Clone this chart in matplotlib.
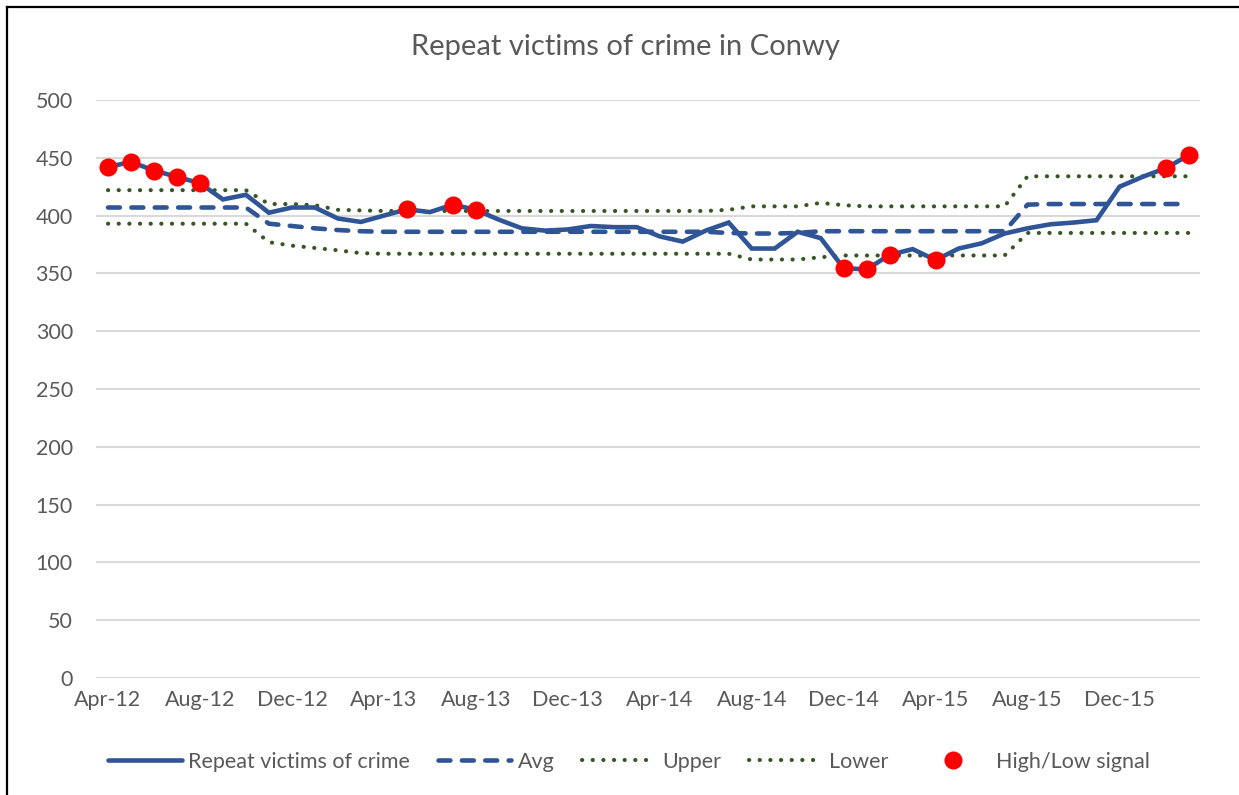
import matplotlib
matplotlib.use("Agg")
import matplotlib.pyplot as plt
from matplotlib.lines import Line2D
import numpy as np

# ---------------- data ----------------
months = ["Apr-12", "May-12", "Jun-12", "Jul-12", "Aug-12", "Sep-12", "Oct-12", "Nov-12",
          "Dec-12", "Jan-13", "Feb-13", "Mar-13", "Apr-13", "May-13", "Jun-13", "Jul-13",
          "Aug-13", "Sep-13", "Oct-13", "Nov-13", "Dec-13", "Jan-14", "Feb-14", "Mar-14",
          "Apr-14", "May-14", "Jun-14", "Jul-14", "Aug-14", "Sep-14", "Oct-14", "Nov-14",
          "Dec-14", "Jan-15", "Feb-15", "Mar-15", "Apr-15", "May-15", "Jun-15", "Jul-15",
          "Aug-15", "Sep-15", "Oct-15", "Nov-15", "Dec-15", "Jan-16", "Feb-16", "Mar-16"]

repeat_victims = [442, 446.5, 439, 433.5, 428, 414, 418, 402.5,
                  407, 407, 397.5, 394.5, 400, 405.5, 403, 409.5,
                  405, 396.5, 389, 387, 388, 391, 390, 390,
                  382, 377.5, 387, 394, 371.5, 371.5, 386, 380.5,
                  354.5, 353.5, 366, 371, 361.5, 371.5, 376, 384.5,
                  389, 392.5, 394, 396, 425, 433.5, 441, 452]

avg = [407, 407, 407, 407, 407, 407, 407, 393,
       391, 389, 387.5, 386.5, 386, 386, 386, 386,
       386, 386, 386, 386, 386, 386, 386, 386,
       386, 386, 386, 385, 384.5, 384.5, 385, 386.5,
       386.5, 386.5, 386.5, 386.5, 386.5, 386.5, 386.5, 386.5,
       409.5, 410, 410, 410, 410, 410, 410, 410]

upper = [422, 422, 422, 422, 422, 422, 422, 410,
         410, 409, 405, 404.5, 404, 404, 404, 404,
         404, 404, 404, 404, 404, 404, 404, 404,
         404, 404, 404, 405, 408, 408, 408, 411,
         409, 408, 408, 408, 408, 408, 408, 408,
         434, 434, 434, 434, 434, 434, 434, 434]

lower = [393, 393, 393, 393, 393, 393, 393, 377,
         374, 372, 370, 367.5, 367, 367, 367, 367,
         367, 367, 367, 367, 367, 367, 367, 367,
         367, 367, 367, 367, 362, 362, 362, 364,
         365.5, 365.5, 365.5, 365.5, 365.5, 365.5, 365.5, 365.5,
         385, 385, 385, 385, 385, 385, 385, 385]

signal_months = ["Apr-12", "May-12", "Jun-12", "Jul-12", "Aug-12", "May-13", "Jul-13",
                 "Aug-13", "Dec-14", "Jan-15", "Feb-15", "Apr-15", "Feb-16", "Mar-16"]

tick_labels = ["Apr-12", "Aug-12", "Dec-12", "Apr-13", "Aug-13", "Dec-13",
               "Apr-14", "Aug-14", "Dec-14", "Apr-15", "Aug-15", "Dec-15"]
y_ticks = [0, 50, 100, 150, 200, 250, 300, 350, 400, 450, 500]

# ---------------- style ----------------
FONT = ["Lato", "DejaVu Sans"]
plt.rcParams["font.family"] = FONT
TXT = "#595959"
BLUE = "#2F5597"
GREEN = "#375623"
RED = "#FF0000"
GRID = "#D9D9D9"
DOT = (0, (0.05, 2.55))
DASH = (0, (2.6, 2.5))

W, H = 1239, 795
fig = plt.figure(figsize=(W / 100, H / 100), dpi=100)
ax = fig.add_axes([96.5 / W, 1 - 678 / H, (1200 - 96.5) / W, (678 - 100) / H])

x = np.arange(len(months))
ax.plot(x, upper, color=GREEN, lw=2.95, linestyle=DOT, dash_capstyle="round", zorder=2)
ax.plot(x, lower, color=GREEN, lw=2.95, linestyle=DOT, dash_capstyle="round", zorder=2)
ax.plot(x, avg, color=BLUE, lw=3.3, linestyle=DASH, dash_capstyle="round", zorder=3)
ax.plot(x, repeat_victims, color=BLUE, lw=3.3, solid_joinstyle="miter",
        solid_capstyle="butt", zorder=4)
sig_idx = [months.index(m) for m in signal_months]
ax.plot([x[i] for i in sig_idx], [repeat_victims[i] for i in sig_idx], "o",
        color=RED, markersize=13, markeredgewidth=0, zorder=5)

ax.set_xlim(-0.5, len(months) - 0.5)
ax.set_ylim(0, 500)
ax.set_yticks(y_ticks)
ax.set_yticklabels([str(v) for v in y_ticks])
ax.set_xticks([months.index(t) for t in tick_labels])
ax.set_xticklabels(tick_labels)
ax.tick_params(axis="both", length=0, labelsize=15.5, colors=TXT)
ax.tick_params(axis="y", pad=17)
ax.tick_params(axis="x", pad=9)
ax.grid(axis="y", color=GRID, lw=1.5)
ax.set_axisbelow(True)
for s in ax.spines.values():
    s.set_visible(False)

fig.text(625 / W, 1 - 47 / H, "Repeat victims of crime in Conwy", ha="center",
         va="center", fontsize=21, color=TXT)

handles = [
    Line2D([], [], color=BLUE, lw=3.3, solid_capstyle="round"),
    Line2D([], [], color=BLUE, lw=3.3, linestyle=DASH, dash_capstyle="round"),
    Line2D([], [], color=GREEN, lw=2.95, linestyle=DOT, dash_capstyle="round"),
    Line2D([], [], color=GREEN, lw=2.95, linestyle=DOT, dash_capstyle="round"),
    Line2D([], [], color=RED, marker="o", linestyle="none", markersize=13, markeredgewidth=0),
]
labels = ["Repeat victims of crime", "Avg", "Upper", "Lower", "High/Low signal"]
leg = fig.legend(handles, labels, loc="center", bbox_to_anchor=(629 / W, 1 - 762 / H),
                 ncol=5, frameon=False, fontsize=15.5, handlelength=3.4,
                 handletextpad=0.3, columnspacing=1.3, labelcolor=TXT)

# chart border (top and left visible)
fig.add_artist(Line2D([6.5 / W, 1.0], [1 - 6.5 / H, 1 - 6.5 / H], color="black", lw=1.6,
                      transform=fig.transFigure))
fig.add_artist(Line2D([7 / W, 7 / W], [1 - 6.5 / H, 0], color="black", lw=1.6,
                      transform=fig.transFigure))

fig.savefig("out.png", dpi=100)
